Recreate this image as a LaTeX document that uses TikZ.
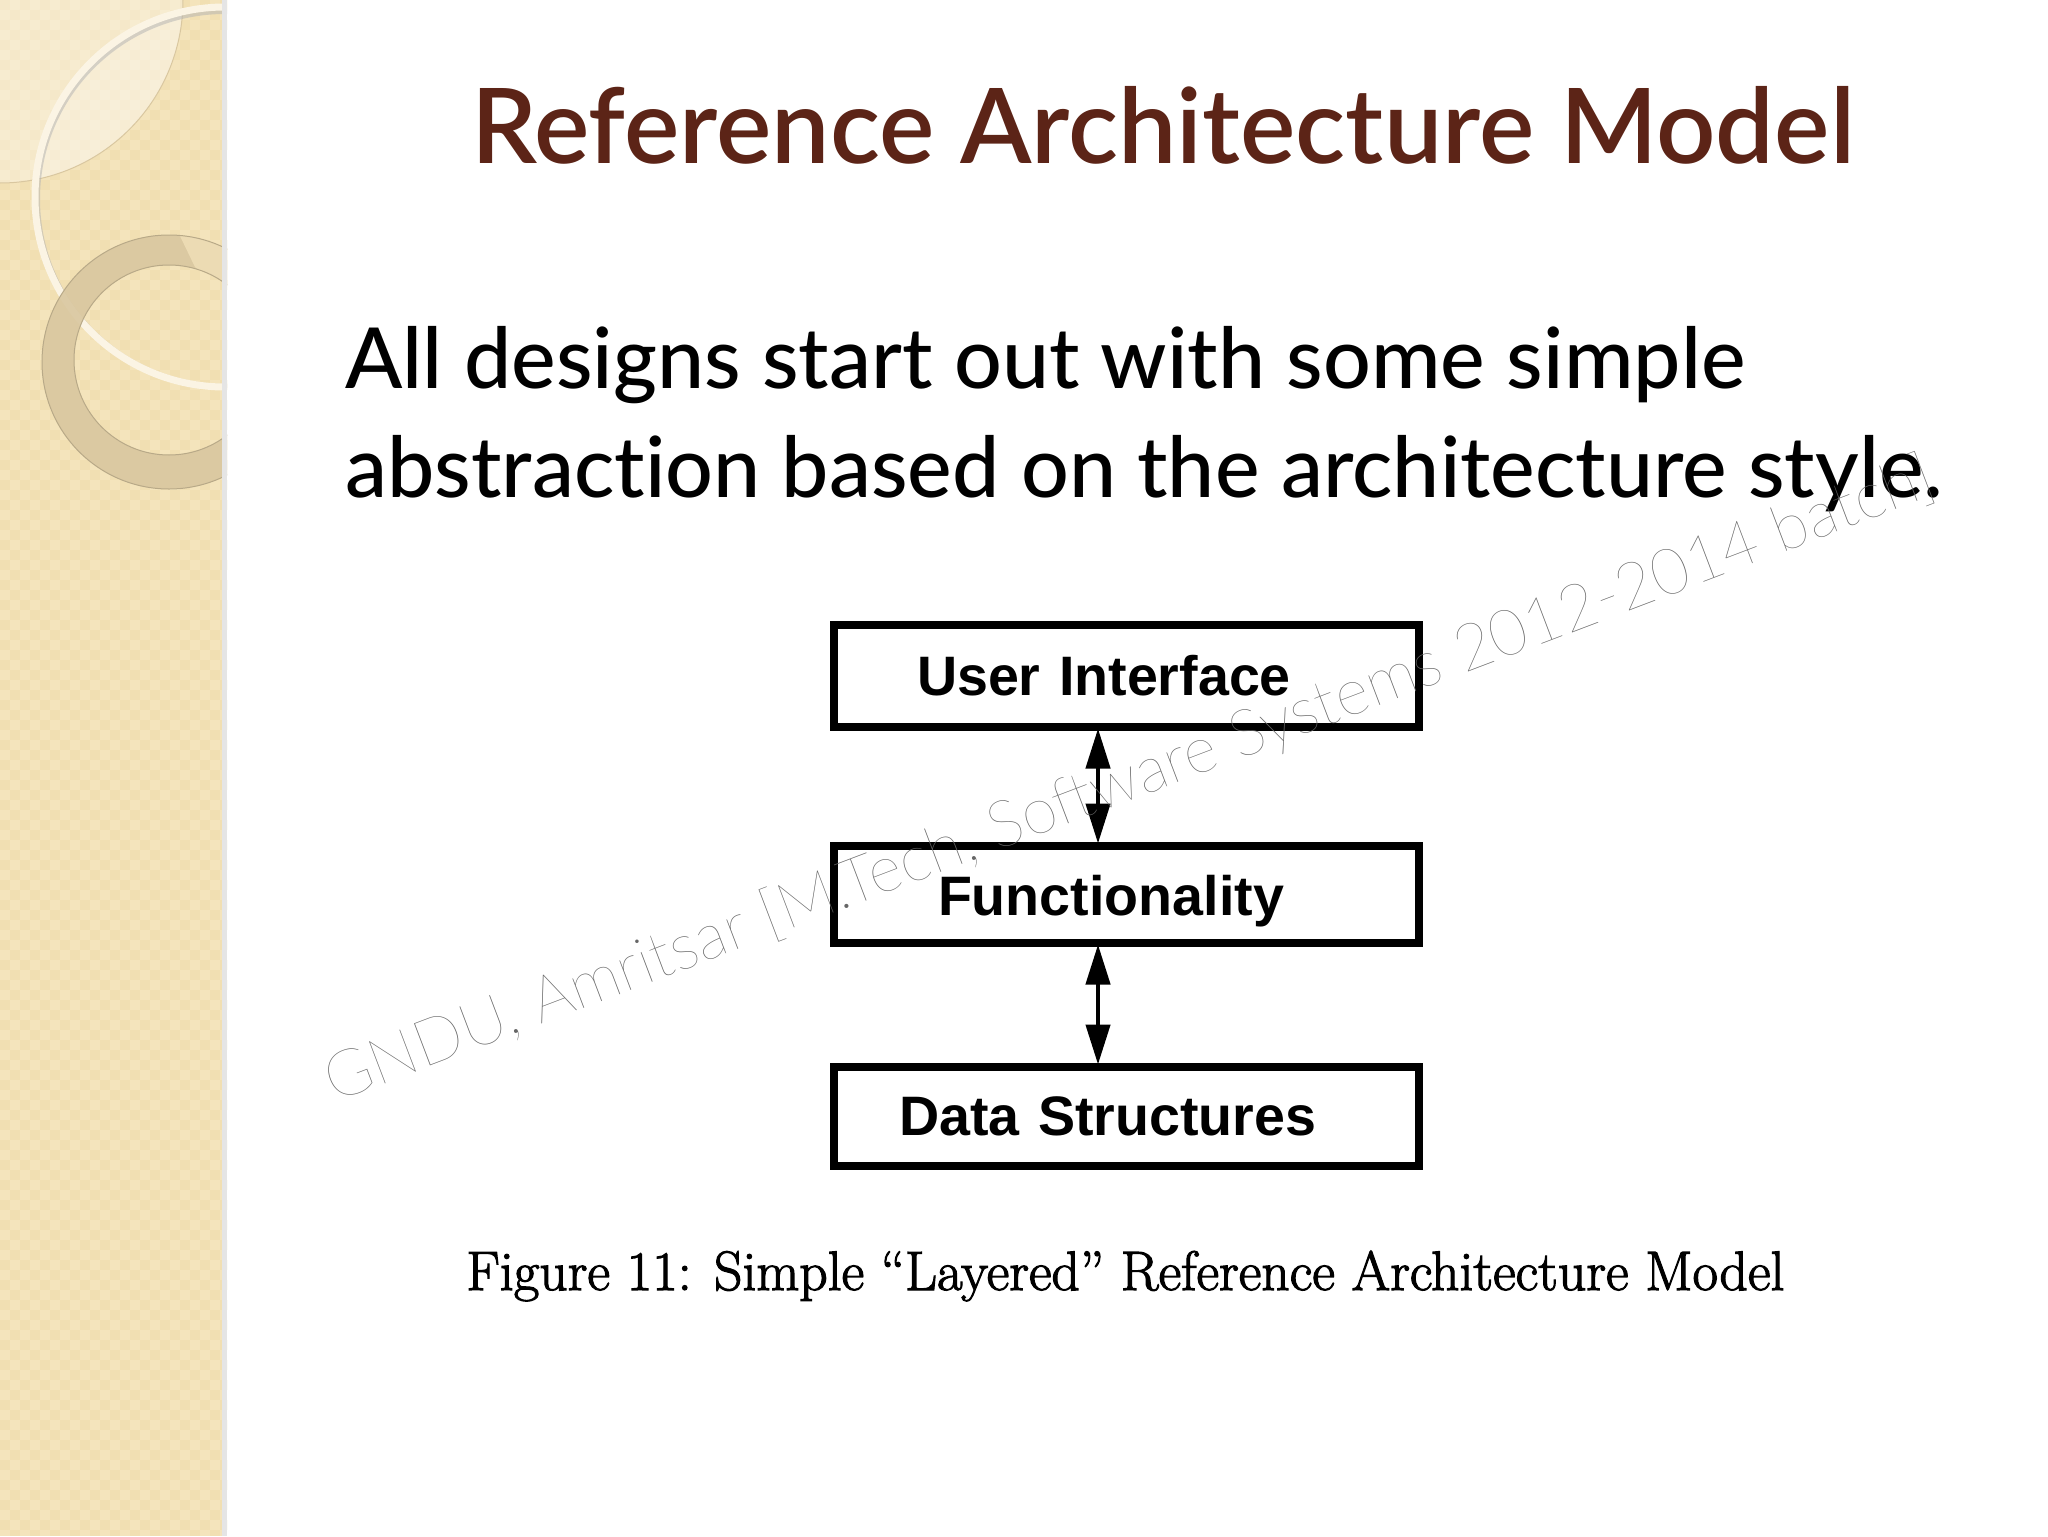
\documentclass[tikz,border=0pt]{standalone}
\usepackage{fontspec}
\usetikzlibrary{positioning, arrows.meta}
\newfontfamily\slidefont[Ligatures=NoCommon]{Lato Medium}
\newfontfamily\titlefont[Ligatures=NoCommon]{Lato Semibold}
\newfontfamily\boxfont{Liberation Sans}
\newfontfamily\markfont{Lato Hairline}
\newfontfamily\capfont[FakeBold=2]{Latin Modern Roman}
\definecolor{stripbase}{HTML}{F4E4BC}
\definecolor{stripcheck}{HTML}{F1DFB2}
\definecolor{ringtan}{HTML}{D9C7A0}
\definecolor{titlebrown}{HTML}{5C2417}
\tikzset{
    >={Triangle[length=20pt,width=12pt]}, % long narrow arrow heads
    checkline/.style={draw=stripcheck, line width=5pt, dash pattern=on 5pt off 5pt},
    layerbox/.style={draw, line width=4pt, minimum width=292.5pt, text width=280pt, align=left, font=\boxfont\fontsize{27.8}{32}\selectfont\bfseries},
    linkarrow/.style={<->, line width=2.2pt, shorten <=-1pt, shorten >=-1pt},
    titletext/.style={anchor=base west, text=titlebrown, inner sep=0pt, font=\titlefont\fontsize{52.1}{60}\selectfont},
    bodytext/.style={anchor=base west, align=left, inner sep=0pt, font=\slidefont\fontsize{42.1}{54.5}\selectfont},
    captext/.style={anchor=base west, inner sep=0pt, text=black, font=\capfont\fontsize{27.8}{32}\selectfont},
    marktext/.style={anchor=base west, inner sep=0pt, rotate=20.8, text=black!60, font=\markfont\fontsize{32.1}{38}\selectfont},
}
\begin{document}
\begin{tikzpicture}[x=0.5pt, y=-0.5pt]
    \useasboundingbox (0,0) rectangle (2048,1536);
    % left strip
    \begin{scope}
        \clip (0,0) rectangle (227,1536);
        \fill[stripbase] (0,0) rectangle (227,1536);
        \foreach \col in {5,25,...,225}
            \draw[checkline] (\col,0) -- (\col,1536);
        \foreach \col in {15,35,...,215}
            \draw[checkline, dash phase=5pt] (\col,0) -- (\col,1536);
        \fill[white, fill opacity=0.3] (0,0) -- (183,0) arc (0:90:183) -- cycle;
        \begin{scope}
            \clip (225,197) circle (190);
            \fill[white, fill opacity=0.2] (0,0) -- (183,0) arc (0:90:183) -- cycle;
        \end{scope}
        \draw[draw=ringtan, line width=0.5pt] (183,0) arc (0:90:183);
        % big pale circle
        \draw[draw=black!30, line width=2pt, opacity=0.5] (225,199) circle (187);
        \draw[draw=white!60!stripbase, line width=3.5pt] (225,197) circle (190);
        % tan ring
        \fill[ringtan, even odd rule, fill opacity=0.9] (169,362) circle (127) (169,360) circle (95);
        \begin{scope}
            \clip (180,236) -- (195,267) -- (227,292) -- (227,236) -- cycle;
            \fill[stripbase, even odd rule, fill opacity=0.7] (169,362) circle (127) (169,360) circle (95);
        \end{scope}
        \draw[draw=ringtan!85!black, line width=0.5pt] (169,362) circle (127) (169,360) circle (95);
        \fill[black!10] (222,0) rectangle (227,1536);
    \end{scope}
    % texts
    \node[titletext] (title) at (471,163) {Reference Architecture Model};
    \node[bodytext] (body) at (345,497) {All designs start out with some simple\\abstraction based on the architecture style.};
    % layers
    \node[layerbox, minimum height=51pt] (ui) at (1126,675.5) {\hspace*{35.5pt}User Interface};
    \node[layerbox, minimum height=48.5pt, below=55.5pt of ui] (func) {\hspace*{46pt}\rule{0pt}{27.5pt}Functionality};
    \node[layerbox, minimum height=49.5pt, below=58pt of func] (data) {\hspace*{26.5pt}Data Structures};
    \draw[linkarrow] ([xshift=-14pt]ui.south) -- ([xshift=-14pt]func.north);
    \draw[linkarrow] ([xshift=-14pt]func.south) -- ([xshift=-14pt]data.north);
    \node[captext] (caption) at (466,1290) {Figure 11: Simple “Layered” Reference Architecture Model};
    \node[marktext] (mark) at (334,1103) {GNDU, Amritsar [M.Tech, Software Systems 2012-2014 batch]};
\end{tikzpicture}
\end{document}
